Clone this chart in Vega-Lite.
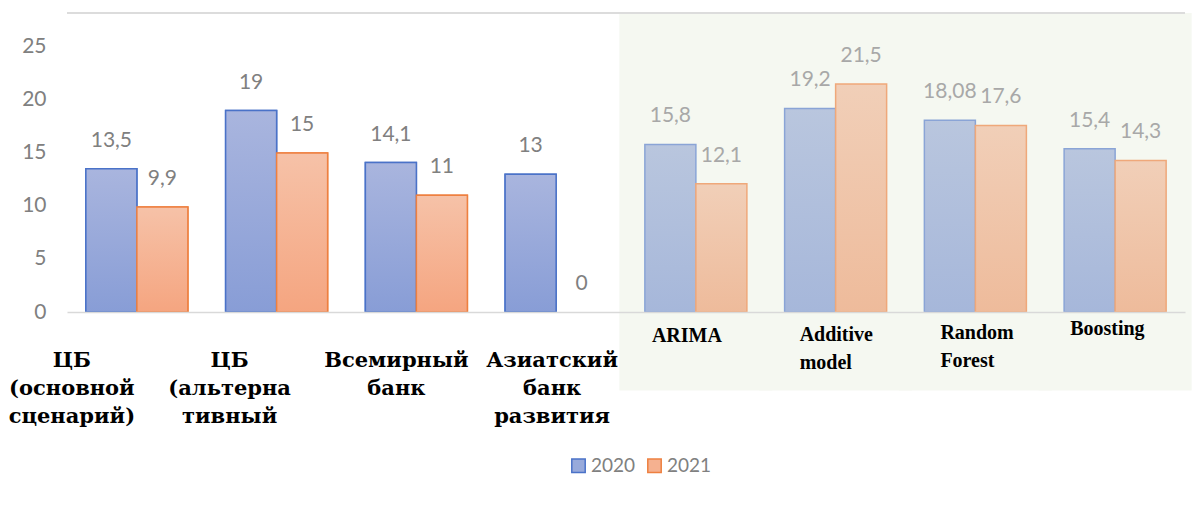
{
  "$schema": "https://vega.github.io/schema/vega-lite/v6.json",
  "width": 1118,
  "height": 299,
  "autosize": {"type": "none"},
  "padding": {"left": 67, "top": 13, "right": 13, "bottom": 198},
  "background": "white",
  "config": {
    "view": {"stroke": null},
    "locale": {"number": {"decimal": ",", "thousands": " ", "grouping": [3], "currency": ["", ""]}}
  },
  "data": {
    "values": [
      {"cat": "ЦБ (основной сценарий)", "side": "L", "year": "2020", "value": 13.5},
      {"cat": "ЦБ (основной сценарий)", "side": "L", "year": "2021", "value": 9.9},
      {"cat": "ЦБ (альтерна тивный", "side": "L", "year": "2020", "value": 19},
      {"cat": "ЦБ (альтерна тивный", "side": "L", "year": "2021", "value": 15},
      {"cat": "Всемирный банк", "side": "L", "year": "2020", "value": 14.1},
      {"cat": "Всемирный банк", "side": "L", "year": "2021", "value": 11},
      {"cat": "Азиатский банк развития", "side": "L", "year": "2020", "value": 13},
      {"cat": "Азиатский банк развития", "side": "L", "year": "2021", "value": 0},
      {"cat": "ARIMA", "side": "R", "year": "2020", "value": 15.8},
      {"cat": "ARIMA", "side": "R", "year": "2021", "value": 12.1},
      {"cat": "Additive model", "side": "R", "year": "2020", "value": 19.2},
      {"cat": "Additive model", "side": "R", "year": "2021", "value": 21.5},
      {"cat": "Random Forest", "side": "R", "year": "2020", "value": 18.08},
      {"cat": "Random Forest", "side": "R", "year": "2021", "value": 17.6},
      {"cat": "Boosting", "side": "R", "year": "2020", "value": 15.4},
      {"cat": "Boosting", "side": "R", "year": "2021", "value": 14.3}
    ]
  },
  "layer": [
    {
      "transform": [{"filter": "datum.side == 'R' && datum.year == '2020'"}],
      "mark": {"type": "bar", "width": {"band": 1.5}, "fill": "#f5f8f1", "strokeWidth": 0},
      "encoding": {
        "x": {"field": "cat", "type": "nominal", "title": null,
          "scale": {"domain": ["ЦБ (основной сценарий)", "ЦБ (альтерна тивный", "Всемирный банк", "Азиатский банк развития", "ARIMA", "Additive model", "Random Forest", "Boosting"], "paddingInner": 0.27, "paddingOuter": 0.135},
          "axis": {
            "title": null, "domainColor": "#d9d9d9", "domainWidth": 1.5, "ticks": false, "zindex": 1,
            "labelAngle": 0, "labelExpr": "split(datum.label, ' ')",
            "labelFont": {"condition": {"test": "indexof(['ARIMA','Additive model','Random Forest','Boosting'], datum.value) >= 0", "value": "Liberation Serif"}, "value": "DejaVu Serif"},
            "labelFontWeight": "bold", "labelColor": "#000000",
            "labelLimit": 400, "labelOverlap": false, "labelBound": false, "labelFlush": false,
            "labelLineHeight": 28,
            "labelFontSize": {"condition": {"test": "indexof(['ARIMA','Additive model','Random Forest','Boosting'], datum.value) >= 0", "value": 20}, "value": 21},
            "labelAlign": {"condition": {"test": "indexof(['ARIMA','Additive model','Random Forest','Boosting'], datum.value) >= 0", "value": "left"}, "value": "center"},
            "labelOffset": {"condition": [
              {"test": "datum.value == 'ЦБ (основной сценарий)'", "value": -65},
              {"test": "datum.value == 'ЦБ (альтерна тивный'", "value": -47},
              {"test": "datum.value == 'Всемирный банк'", "value": -20},
              {"test": "datum.value == 'Азиатский банк развития'", "value": -4},
              {"test": "datum.value == 'ARIMA'", "value": -44},
              {"test": "datum.value == 'Additive model'", "value": -36},
              {"test": "datum.value == 'Random Forest'", "value": -35}
            ], "value": -45},
            "labelPadding": {"condition": [
              {"test": "datum.value == 'ARIMA'", "value": 13},
              {"test": "datum.value == 'Additive model'", "value": 12},
              {"test": "datum.value == 'Random Forest'", "value": 10},
              {"test": "datum.value == 'Boosting'", "value": 6}
            ], "value": 37}
          }
        },
        "y": {"datum": 28.2, "type": "quantitative", "title": null,
          "scale": {"domain": [0, 28.2], "nice": false, "zero": true},
          "axis": {"title": null, "domain": false, "ticks": false, "grid": false, "values": [0, 5, 10, 15, 20, 25],
            "labelFont": "Lato", "labelFontSize": 21, "labelColor": "#808080", "labelPadding": 21}},
        "y2": {"datum": -7.4}
      }
    },
    {
      "transform": [{"filter": "datum.side == 'L' && datum.value > 0"}],
      "mark": {"type": "bar", "strokeWidth": 1.5},
      "encoding": {
        "x": {"field": "cat", "type": "nominal", "title": null},
        "xOffset": {"field": "year", "type": "nominal", "scale": {"domain": ["2020", "2021"], "paddingInner": 0, "paddingOuter": 0}},
        "y": {"field": "value", "type": "quantitative", "title": null},
        "fill": {"field": "year", "type": "nominal",
          "scale": {"domain": ["2020", "2021"], "range": ["#98aadb", "#f5b190"]},
          "legend": {"title": null, "orient": "none", "legendX": 502, "legendY": 443, "direction": "horizontal",
            "symbolType": "square", "symbolSize": 180, "symbolStrokeWidth": 1.5,
            "labelFont": "Lato", "labelFontSize": 19, "labelColor": "#808080", "columnPadding": 8, "labelOffset": 3}},
        "stroke": {"field": "year", "type": "nominal",
          "scale": {"domain": ["2020", "2021"], "range": ["#4a72c8", "#ee8040"]},
          "legend": {"title": null, "orient": "none", "legendX": 502, "legendY": 443, "direction": "horizontal",
            "symbolType": "square", "symbolSize": 180, "symbolStrokeWidth": 1.5,
            "labelFont": "Lato", "labelFontSize": 19, "labelColor": "#808080", "columnPadding": 8, "labelOffset": 3}}
      }
    },
    {
      "transform": [{"filter": "datum.value > 0"}],
      "mark": {"type": "bar", "strokeWidth": 1.5},
      "encoding": {
        "x": {"field": "cat", "type": "nominal", "title": null},
        "xOffset": {"field": "year", "type": "nominal"},
        "y": {"field": "value", "type": "quantitative", "title": null},
        "fill": {
          "condition": [
            {"test": "datum.side == 'L' && datum.year == '2020'", "value": {"gradient": "linear", "x1": 0, "y1": 0, "x2": 0, "y2": 1, "stops": [{"offset": 0, "color": "#a9b5de"}, {"offset": 1, "color": "#889dd6"}]}},
            {"test": "datum.side == 'L' && datum.year == '2021'", "value": {"gradient": "linear", "x1": 0, "y1": 0, "x2": 0, "y2": 1, "stops": [{"offset": 0, "color": "#f6c2a8"}, {"offset": 1, "color": "#f5a580"}]}},
            {"test": "datum.side == 'R' && datum.year == '2020'", "value": {"gradient": "linear", "x1": 0, "y1": 0, "x2": 0, "y2": 1, "stops": [{"offset": 0, "color": "#b9c6de"}, {"offset": 1, "color": "#a6b7da"}]}}
          ],
          "value": {"gradient": "linear", "x1": 0, "y1": 0, "x2": 0, "y2": 1, "stops": [{"offset": 0, "color": "#f1cfb8"}, {"offset": 1, "color": "#eebb9b"}]}
        },
        "stroke": {
          "condition": [
            {"test": "datum.side == 'L' && datum.year == '2020'", "value": "#4a72c8"},
            {"test": "datum.side == 'L' && datum.year == '2021'", "value": "#ee8040"},
            {"test": "datum.side == 'R' && datum.year == '2020'", "value": "#8aa4d6"}
          ],
          "value": "#efa87a"
        }
      }
    },
    {
      "mark": {"type": "text", "font": "Lato", "fontSize": 21, "baseline": "middle", "dy": -28},
      "encoding": {
        "x": {"field": "cat", "type": "nominal", "title": null},
        "xOffset": {"field": "year", "type": "nominal"},
        "y": {"field": "value", "type": "quantitative", "title": null},
        "text": {"field": "value", "type": "quantitative", "format": "~g"},
        "color": {"condition": {"test": "datum.side == 'R'", "value": "#a8a8a8"}, "value": "#808080"}
      }
    },
    {
      "data": {"values": [{}]},
      "mark": {"type": "rule", "color": "#dcdcdc", "strokeWidth": 2},
      "encoding": {"y": {"datum": 28.2, "type": "quantitative"}}
    }
  ]
}
